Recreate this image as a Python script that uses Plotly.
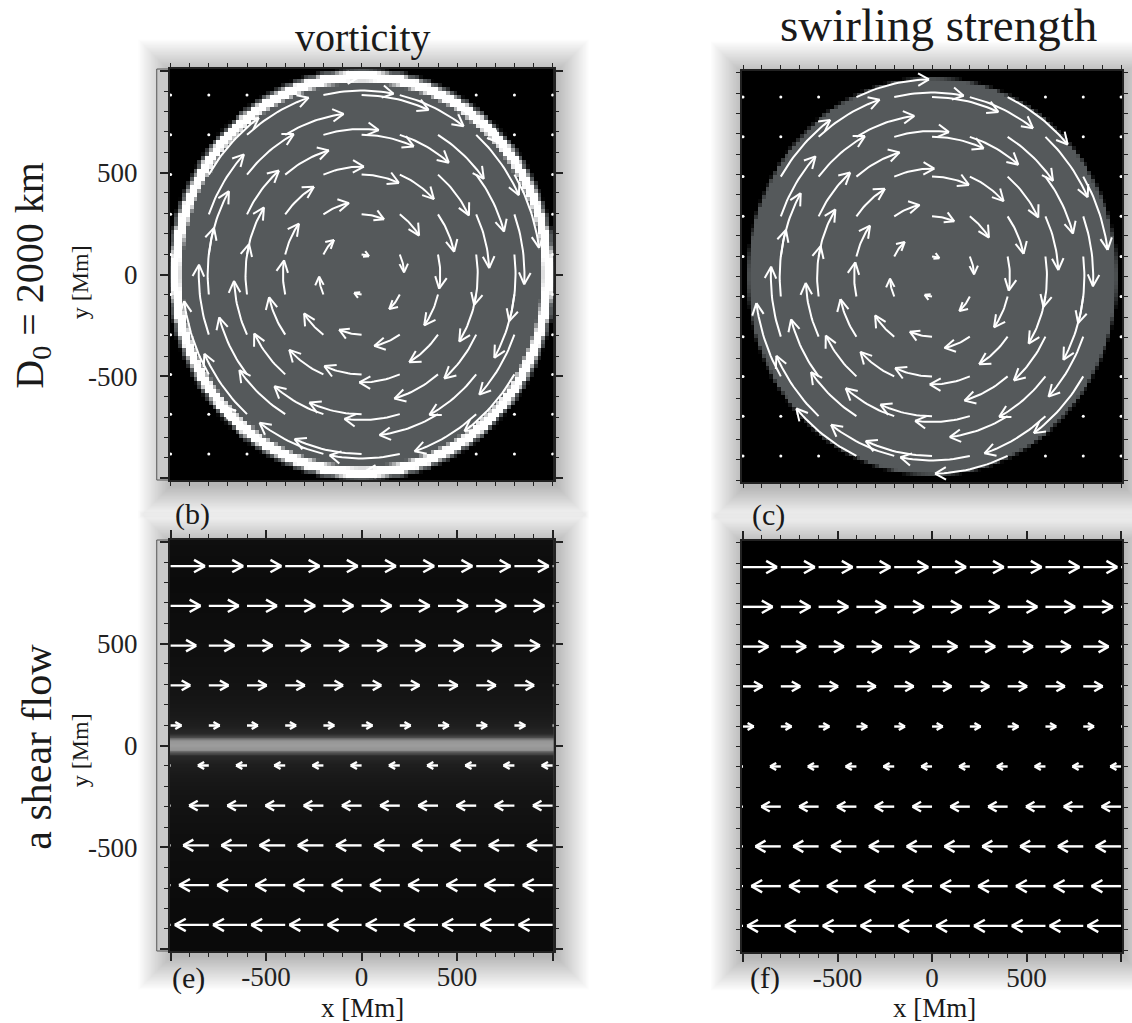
import numpy as np
import plotly.graph_objects as go

# ---------------- data ----------------
grid_x = [-1000, -800, -600, -400, -200, 0, 200, 400, 600, 800, 1000]
grid_y = [-880, -685, -490, -295, -98, 98, 295, 490, 685, 880]

# vortex: clockwise rotation, each arrow turns by this angle (rad) inside the disc
vortex_turn = 0.41
vortex_radius = 1000

# shear flow: horizontal displacement of each row (Mm), order of grid_y
shear_u = [-178, -156, -134, -103, -57, 57, 103, 134, 157, 180]

# vorticity image of the vortex: radial profile (0 black, 0.35 gray, 1 white)
vort_r = [0, 938, 953, 993, 1002, 1010, 1020]
vort_level = [0.35, 0.35, 1.0, 1.0, 0.35, 0.35, 0.0]
# swirling-strength image of the vortex
swirl_r = [0, 968, 984]
swirl_level = [0.35, 0.35, 0.0]
# vorticity image of the shear flow: vertical profile (gray level 0-255)
shear_vort_y = [-1010, -800, -600, -400, -250, -150, -90, -55, -38, -22, 0,
                22, 38, 55, 90, 150, 250, 400, 600, 800, 1010]
shear_vort_gray = [10, 11, 13, 16, 20, 25, 31, 40, 80, 148, 156,
                   148, 80, 40, 31, 25, 20, 16, 13, 11, 15]

tick_vals = [-1000, -500, 0, 500, 1000]
tick_text = ["", "-500", "0", "500", ""]

# ---------------- layout helpers ----------------
W, H = 1132, 1023
def px(x): return x / W
def py(y): return 1 - y / H

# panel pixel boxes: (left, top, right, bottom)
panels = {
    "TL": (171, 69, 558, 480),
    "TR": (748, 71, 1131, 482),
    "BL": (171, 540, 558, 951),
    "BR": (748, 541, 1131, 952),
}
XR = [-1005, 1005]
YR = [-1008, 1008]
FONT = "Liberation Serif"
GRAY_CS = [[0, "#000000"], [0.35, "#55595b"], [1, "#ffffff"]]
PURE_CS = [[0, "rgb(0,0,0)"], [1, "rgb(255,255,255)"]]

def head_len(L_mm):
    Lpx = L_mm * 0.2
    return min(4 + 0.3 * Lpx, 13) / 0.2

def add_head(xs, ys, tip, d, h, ang=np.radians(28)):
    back = -d
    for s in (1, -1):
        c, sn = np.cos(s * ang), np.sin(s * ang)
        b = np.array([c * back[0] - sn * back[1], sn * back[0] + c * back[1]])
        xs += [tip[0] + h * b[0], tip[0], None]
        ys += [tip[1] + h * b[1], tip[1], None]

def vortex_traces(xa, ya):
    xs, ys, dxs, dys = [], [], [], []
    for gy in grid_y:
        for gx in grid_x:
            r = float(np.hypot(gx, gy))
            if r <= vortex_radius:
                phi0 = np.arctan2(gy, gx)
                phis = np.linspace(phi0, phi0 - vortex_turn, 18)
                xs += list(r * np.cos(phis)) + [None]
                ys += list(r * np.sin(phis)) + [None]
                p1 = phis[-1]
                d = np.array([np.sin(p1), -np.cos(p1)])
                tip = np.array([r * np.cos(p1), r * np.sin(p1)])
                add_head(xs, ys, tip, d, head_len(r * vortex_turn))
            else:
                dxs.append(gx); dys.append(gy)
    return [
        go.Scatter(x=xs, y=ys, mode="lines", line=dict(color="white", width=2),
                   xaxis=xa, yaxis=ya, hoverinfo="skip", showlegend=False),
        go.Scatter(x=dxs, y=dys, mode="markers", marker=dict(color="white", size=3),
                   xaxis=xa, yaxis=ya, hoverinfo="skip", showlegend=False, cliponaxis=True),
    ]

def shear_traces(xa, ya):
    xs, ys = [], []
    for gy, u in zip(grid_y, shear_u):
        for gx in grid_x:
            xs += [gx, gx + u, None]
            ys += [gy, gy, None]
            d = np.array([np.sign(u), 0.0])
            add_head(xs, ys, np.array([gx + u, gy]), d, head_len(abs(u)))
    return [go.Scatter(x=xs, y=ys, mode="lines", line=dict(color="white", width=2.4),
                       xaxis=xa, yaxis=ya, hoverinfo="skip", showlegend=False)]

cells = np.arange(-1010, 1011, 20)
CX, CY = np.meshgrid(cells, cells)
R = np.hypot(CX, CY)
z_vort = np.interp(R, vort_r, vort_level)
z_swirl = np.interp(R, swirl_r, swirl_level)
fine_y = np.arange(-1012, 1013, 4)
z_shear = np.tile(np.interp(fine_y, shear_vort_y, shear_vort_gray)[:, None], (1, 2))
z_zero = np.zeros((2, 2))

fig = go.Figure()
fig.add_trace(go.Heatmap(x=cells, y=cells, z=z_vort, colorscale=GRAY_CS, zmin=0, zmax=1,
                         showscale=False, xaxis="x", yaxis="y", hoverinfo="skip"))
fig.add_trace(go.Heatmap(x=cells, y=cells, z=z_swirl, colorscale=GRAY_CS, zmin=0, zmax=1,
                         showscale=False, xaxis="x2", yaxis="y2", hoverinfo="skip"))
fig.add_trace(go.Heatmap(x=[-1012, 1012], y=fine_y, z=z_shear, colorscale=PURE_CS, zmin=0,
                         zmax=255, showscale=False, xaxis="x3", yaxis="y3", hoverinfo="skip"))
fig.add_trace(go.Heatmap(x=[-1012, 1012], y=[-1012, 1012], z=z_zero, colorscale=PURE_CS,
                         zmin=0, zmax=255, showscale=False, xaxis="x4", yaxis="y4",
                         hoverinfo="skip"))
for t in vortex_traces("x", "y"): fig.add_trace(t)
for t in vortex_traces("x2", "y2"): fig.add_trace(t)
for t in shear_traces("x3", "y3"): fig.add_trace(t)
for t in shear_traces("x4", "y4"): fig.add_trace(t)

def axis(dom, rng, labels, standoff):
    return dict(domain=dom, range=rng, showgrid=False, zeroline=False, showline=True,
                linecolor="#222", linewidth=1.5, mirror="ticks", ticks="outside",
                ticklen=8, tickwidth=1.5, tickcolor="#222", tickmode="array",
                tickvals=tick_vals, ticktext=tick_text if labels else [""] * 5,
                showticklabels=labels,
                tickfont=dict(family=FONT, size=27, color="#222"),
                ticklabelstandoff=standoff, fixedrange=True,
                minor=dict(ticks="outside", ticklen=4, tickwidth=1, tickcolor="#222",
                           dtick=100, tick0=0, showgrid=False))

lay = {}
names = ["TL", "TR", "BL", "BR"]
for i, n in enumerate(names):
    l, t, r, b = panels[n]
    sfx = "" if i == 0 else str(i + 1)
    xl = n == "BL" or n == "BR"
    yl = n == "TL" or n == "BL"
    lay["xaxis" + sfx] = axis([px(l), px(r)], XR, xl, -7)
    lay["yaxis" + sfx] = axis([py(b), py(t)], YR, yl, 17)
    lay["xaxis" + sfx]["anchor"] = "y" + sfx
    lay["yaxis" + sfx]["anchor"] = "x" + sfx
fig.update_layout(**lay)

shapes = []
for n in names:
    l, t, r, b = panels[n]
    for i in range(1, 25):
        e = 1.4 * i
        shapes.append(dict(type="rect", xref="paper", yref="paper", layer="below",
                           x0=px(l - e + 2), x1=px(r + e + 2), y0=py(b + e + 5), y1=py(t - e + 4),
                           line=dict(width=0), fillcolor="rgba(0,0,0,0.012)"))
for n in ["TL", "BL"]:
    l, t, r, b = panels[n]
    shapes.append(dict(type="rect", xref="paper", yref="paper", layer="below",
                       x0=px(158), x1=px(l), y0=py(b), y1=py(t),
                       line=dict(width=1, color="#555"), fillcolor="#c9c9c9"))

def ann(text, x, y, size, angle=0):
    return dict(text=text, x=px(x), y=py(y), xref="paper", yref="paper", showarrow=False,
                xanchor="center", yanchor="middle", textangle=angle,
                font=dict(family=FONT, size=size, color="#1a1a1a"))

annotations = [
    ann("vorticity", 366, 38, 40),
    ann("swirling strength", 946, 25, 47),
    ann("D<sub>0</sub> = 2000 km", 32, 275, 40, -90),
    ann("a shear flow", 37, 747, 42, -90),
    ann("y [Mm]", 81, 282, 24, -90),
    ann("y [Mm]", 81, 750, 24, -90),
    ann("(b)", 194, 514, 30),
    ann("(c)", 775, 515, 30),
    ann("(e)", 190, 978, 30),
    ann("(f)", 771, 978, 30),
    ann("x [Mm]", 365, 1008, 27),
    ann("x [Mm]", 942, 1008, 27),
]

fig.update_layout(width=W, height=H, margin=dict(l=0, r=0, t=0, b=0),
                  font=dict(family=FONT, color="#222"),
                  paper_bgcolor="white", plot_bgcolor="black", showlegend=False,
                  shapes=shapes, annotations=annotations)
fig.write_html("out.html")
